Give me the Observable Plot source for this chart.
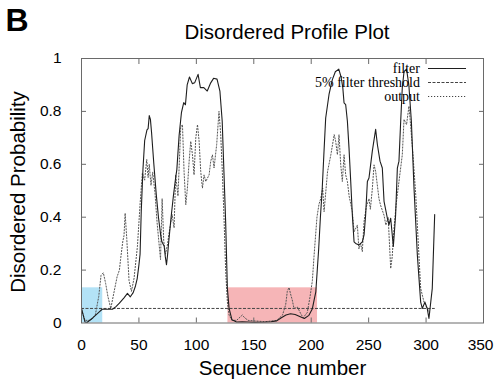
<!DOCTYPE html>
<html><head><meta charset="utf-8">
<script src="https://cdn.jsdelivr.net/npm/d3@7"></script>
<script src="https://cdn.jsdelivr.net/npm/@observablehq/plot@0.6"></script>
<style>body{margin:0;background:#fff}</style>
</head><body><div id="chart"></div>
<script>
// [sequence number, probability]
const filterSeries = [[0,0.055],[3,0.004],[5,0.003],[10,0.02],[15,0.04],[18,0.052],[22,0.052],[27,0.052],[30,0.062],[33,0.075],[37,0.095],[40,0.112],[42.5,0.099],[45,0.115],[47,0.14],[48.5,0.168],[50,0.22],[51,0.26],[52,0.42],[53.5,0.58],[55,0.69],[57,0.73],[58,0.735],[59,0.784],[60,0.77],[61,0.72],[62,0.66],[63,0.6],[65,0.49],[67,0.4],[69,0.33],[70,0.307],[72,0.29],[73,0.25],[74,0.22],[75,0.26],[76,0.31],[78,0.4],[80,0.48],[82,0.55],[83,0.58],[85,0.71],[87,0.795],[89,0.833],[90.5,0.825],[92,0.9],[94,0.93],[96.5,0.905],[98.5,0.908],[101.5,0.94],[103.5,0.89],[106.5,0.89],[109.5,0.877],[112.5,0.908],[115,0.925],[118,0.922],[120.5,0.877],[122.5,0.763],[124,0.573],[125.5,0.383],[127,0.131],[128.5,0.055],[131,0.012],[135,0.004],[140,0.005],[150,0.003],[160,0.004],[165,0.005],[170,0.008],[174,0.02],[178,0.03],[182,0.035],[186,0.032],[190,0.025],[194,0.017],[198,0.029],[201,0.054],[204,0.118],[206.5,0.28],[208,0.4],[209.5,0.5],[211,0.636],[212.6,0.775],[215.5,0.864],[218.4,0.92],[221,0.95],[224,0.96],[226,0.93],[227.5,0.89],[228.6,0.832],[230,0.826],[231.5,0.763],[232.9,0.662],[234.4,0.535],[235.8,0.409],[237.3,0.307],[238.7,0.301],[241.6,0.295],[244.5,0.307],[246,0.333],[247.4,0.409],[248.9,0.535],[250.3,0.548],[253.2,0.65],[256.1,0.732],[257.6,0.675],[259.9,0.612],[261.9,0.586],[263.4,0.46],[266.3,0.396],[267.7,0.371],[269.2,0.396],[271.5,0.289],[273.5,0.409],[275,0.586],[276.4,0.612],[277.9,0.763],[279.3,0.89],[280.8,0.95],[283,0.96],[285,0.9],[287.2,0.763],[289.5,0.51],[292.4,0.257],[295.3,0.079],[296.7,0.055],[299,0.079],[301,0.055],[302.5,0.017],[305.4,0.131],[307.5,0.41]];

const outputSeries = [[0,0.05],[3,0.01],[8,0.01],[12,0.03],[15,0.1],[17,0.18],[19,0.19],[21,0.15],[23,0.1],[25.5,0.055],[28,0.11],[31,0.175],[33,0.2],[34,0.24],[36,0.31],[37,0.33],[38,0.415],[39.4,0.32],[41.4,0.16],[43.5,0.12],[45.8,0.17],[48.7,0.29],[51,0.45],[53,0.567],[55,0.54],[56.8,0.618],[58,0.55],[59,0.6],[60.5,0.52],[62,0.57],[64,0.49],[65.8,0.38],[67.3,0.31],[68.8,0.24],[70.2,0.47],[71.6,0.31],[73.1,0.26],[75,0.3],[76,0.333],[78.9,0.41],[80.6,0.36],[82,0.56],[84,0.48],[86.4,0.74],[87.9,0.75],[89.3,0.573],[90.8,0.447],[92.2,0.51],[93.7,0.611],[95.1,0.687],[96.6,0.636],[98,0.56],[99.5,0.7],[101,0.75],[102.4,0.687],[103.8,0.573],[105.3,0.51],[106.7,0.56],[108.2,0.535],[111.1,0.56],[112.5,0.611],[114,0.636],[115.4,0.586],[117.7,0.675],[119.7,0.8],[121.2,0.712],[122.6,0.573],[124,0.409],[125.5,0.2],[127,0.08],[128.5,0.03],[131,0.01],[135,0.01],[140,0.03],[142,0.02],[145,0.01],[150,0.008],[160,0.005],[170,0.01],[175,0.03],[177.8,0.07],[179.2,0.12],[180.7,0.134],[182,0.11],[183.5,0.087],[185,0.055],[188,0.06],[190.9,0.035],[193,0.02],[196.6,0.04],[199,0.1],[201,0.16],[202.4,0.25],[205,0.4],[206.8,0.45],[208.3,0.47],[210,0.51],[211.2,0.421],[214.2,0.572],[217.1,0.636],[220,0.712],[221.3,0.687],[222.8,0.636],[224.2,0.712],[225.7,0.598],[227.1,0.535],[228.6,0.636],[230,0.56],[231.5,0.535],[233,0.48],[235.8,0.421],[237.3,0.345],[240.2,0.37],[241.5,0.28],[243.1,0.3],[244.5,0.27],[246,0.384],[248,0.44],[250.3,0.47],[251.5,0.43],[253.2,0.507],[254.7,0.598],[256.1,0.573],[259,0.47],[260.4,0.445],[263.4,0.407],[265,0.37],[267,0.4],[269.2,0.206],[270.5,0.25],[272.1,0.358],[274,0.45],[276.4,0.535],[279.3,0.636],[280.8,0.77],[283,0.75],[285.1,0.82],[286.5,0.75],[288.6,0.636],[291,0.485],[293,0.32],[295.3,0.131],[298.2,0.079],[301,0.055],[303,0.04]];

const thresholdValue = 0.055;
const thresholdExtent = [0, 308];
const regionStarts = [0, 127.5];
const regionEnds = [18.5, 205.5];
const regionTop = 0.133;
const regionColors = ["#b3e2f6", "#f6b5b7"];
const xTicks = [0, 50, 100, 150, 200, 250, 300, 350];
const yTicks = [0, 0.2, 0.4, 0.6, 0.8, 1];
const yTickLabels = ["0", "0.2", "0.4", "0.6", "0.8", "1"];
const legendLabels = ["filter", "5% filter threshold", "output"];
const titleText = "Disordered Profile Plot";
const panelLetter = "B";
const xLabel = "Sequence number";
const yLabel = "Disordered Probability";

const toObj = s => s.map(([x, y]) => ({x, y}));
const filterData = toObj(filterSeries);
const outputData = toObj(outputSeries);
const regions = regionStarts.map((s, i) => ({x1: s, x2: regionEnds[i], top: regionTop, color: regionColors[i]}));

const lineColor = "#1e1e1e";
const frameColor = "#6a6a6a";
const dashes = [null, "3,1.5", "1.2,1.8"];

const plot = Plot.plot({
  width: 494,
  height: 381,
  marginLeft: 81,
  marginRight: 11,
  marginTop: 58,
  marginBottom: 58.5,
  x: {domain: [0, 350]},
  y: {domain: [0, 1]},
  style: {fontFamily: "'Liberation Sans', Arial, sans-serif", background: "white", color: "black", overflow: "visible"},
  marks: [
    ...regions.map(r => Plot.rect([r], {x1: "x1", x2: "x2", y1: 0, y2: "top", fill: r.color})),
    Plot.ruleY([thresholdValue], {x1: thresholdExtent[0], x2: thresholdExtent[1], stroke: "#444", strokeWidth: 1, strokeDasharray: dashes[1]}),
    Plot.line(outputData, {x: "x", y: "y", stroke: "#555", strokeWidth: 1, strokeDasharray: dashes[2]}),
    Plot.line(filterData, {x: "x", y: "y", stroke: lineColor, strokeWidth: 1.1}),
    Plot.frame({stroke: frameColor}),
    Plot.axisX(xTicks.slice(1, -1), {anchor: "bottom", tickSize: -5, tickFormat: () => "", label: null, stroke: frameColor}),
    Plot.axisX(xTicks.slice(1, -1), {anchor: "top", tickSize: -5, tickFormat: () => "", label: null, stroke: frameColor}),
    Plot.axisY(yTicks.slice(1, -1), {anchor: "left", tickSize: -5, tickFormat: () => "", label: null, stroke: frameColor}),
    Plot.axisY(yTicks.slice(1, -1), {anchor: "right", tickSize: -5, tickFormat: () => "", label: null, stroke: frameColor}),
    Plot.axisX(xTicks.slice(0, -1), {anchor: "bottom", tickSize: 0, tickPadding: 16, fontSize: 15.5, label: null}),
    Plot.axisX(xTicks.slice(-1), {anchor: "bottom", tickSize: 0, tickPadding: 16, fontSize: 15.5, label: null, textAnchor: "end", dx: 10}),
    Plot.axisY(yTicks, {anchor: "left", tickSize: 0, tickPadding: 20, fontSize: 15.5, label: null, tickFormat: d => yTickLabels[yTicks.indexOf(d)]}),
    Plot.text([titleText], {text: d => d, frameAnchor: "top", lineAnchor: "middle", dx: 4.5, dy: -26, fontSize: 20.5}),
    Plot.text([panelLetter], {text: d => d, frameAnchor: "top-left", lineAnchor: "middle", textAnchor: "start", dx: -76, dy: -38, fontSize: 32, fontWeight: "bold"}),
    Plot.text([xLabel], {text: d => d, frameAnchor: "bottom", lineAnchor: "middle", dx: 0, dy: 45, fontSize: 20.5})
  ]
});

const svg = d3.select(plot);
svg.append("text")
  .attr("transform", "translate(18,192) rotate(-90)")
  .attr("text-anchor", "middle")
  .attr("dy", "0.32em")
  .attr("font-family", "'Liberation Sans', Arial, sans-serif")
  .attr("font-size", 20.5)
  .attr("fill", "black")
  .text(yLabel);

const lg = svg.append("g")
  .attr("font-family", "'Liberation Serif', 'Times New Roman', serif")
  .attr("font-size", 14)
  .attr("fill", "black");
legendLabels.forEach((t, i) => {
  const y = 68.5 + i * 14;
  lg.append("text").attr("x", 420).attr("y", y).attr("dy", "0.32em").attr("text-anchor", "end").text(t);
  lg.append("line").attr("x1", 428).attr("x2", 466).attr("y1", y).attr("y2", y)
    .attr("stroke", i === 0 ? lineColor : "#444").attr("stroke-width", 1)
    .attr("stroke-dasharray", dashes[i]);
});

document.getElementById("chart").appendChild(plot);
</script>
</body></html>
